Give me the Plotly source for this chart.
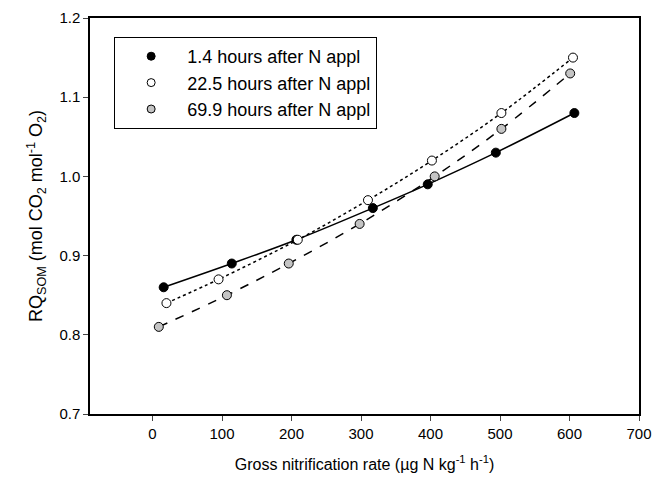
import plotly.graph_objects as go

x_black = [16, 114, 207, 317, 396, 494, 607]
y_black = [0.86, 0.89, 0.92, 0.96, 0.99, 1.03, 1.08]
x_white = [20, 95, 209, 310, 402, 502, 605]
y_white = [0.84, 0.87, 0.92, 0.97, 1.02, 1.08, 1.15]
x_gray = [9, 107, 196, 298, 406, 502, 601]
y_gray = [0.81, 0.85, 0.89, 0.94, 1.00, 1.06, 1.13]
names = ["1.4 hours after N appl", "22.5 hours after N appl", "69.9 hours after N appl"]
x_ticks = [0, 100, 200, 300, 400, 500, 600, 700]
y_ticks = [0.7, 0.8, 0.9, 1.0, 1.1, 1.2]

font = "Liberation Sans, Arial, sans-serif"
fig = go.Figure()
series = [
    (x_black, y_black, names[0], "black", "solid"),
    (x_white, y_white, names[1], "white", "dot"),
    (x_gray, y_gray, names[2], "#c4c4c4", "dash"),
]
for xs, ys, nm, fill, dash in series:
    fig.add_trace(go.Scatter(
        x=xs, y=ys, name=nm, mode="lines+markers", showlegend=False,
        line=dict(color="black", width=1.5, dash=dash, shape="spline"),
        marker=dict(size=9, color=fill, line=dict(color="black", width=1)),
    ))
for xs, ys, nm, fill, dash in series:
    fig.add_trace(go.Scatter(
        x=[None], y=[None], name=nm, mode="markers", showlegend=True,
        marker=dict(size=8, color=fill, line=dict(color="black", width=1)),
    ))

fig.update_layout(
    width=663, height=481,
    margin=dict(l=90, r=24, t=18, b=67),
    plot_bgcolor="white", paper_bgcolor="white",
    font=dict(family=font, size=15, color="black"),
    showlegend=True,
    legend=dict(
        x=0.044, y=0.952, xanchor="left", yanchor="top",
        bordercolor="black", borderwidth=1, bgcolor="white",
        font=dict(size=18), itemwidth=62, tracegroupgap=0,
    ),
    xaxis=dict(
        range=[-90, 700], tickvals=x_ticks, ticks="outside", ticklen=5,
        showline=True, linecolor="black", linewidth=1.5, mirror=True,
        showgrid=False, zeroline=False, automargin=False,
        title=dict(text="Gross nitrification rate (µg N kg<sup>-1</sup> h<sup>-1</sup>)",
                   font=dict(size=16), standoff=18),
    ),
    yaxis=dict(
        range=[0.7, 1.2], tickvals=y_ticks, tickformat=".1f", ticks="outside", ticklen=5,
        showline=True, linecolor="black", linewidth=1.5, mirror=True,
        showgrid=False, zeroline=False, automargin=False,
        title=dict(text="RQ<sub>SOM</sub> (mol CO<sub>2</sub> mol<sup>-1</sup> O<sub>2</sub>)",
                   font=dict(size=18), standoff=12),
    ),
)
fig.write_html("out.html")
